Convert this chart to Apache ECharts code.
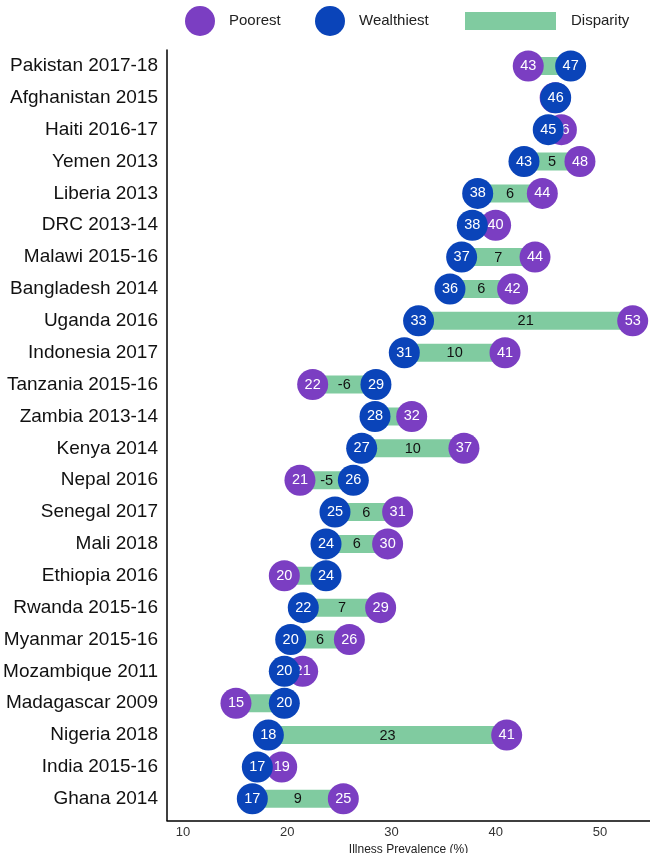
<!DOCTYPE html>
<html>
<head>
<meta charset="utf-8">
<script src="https://cdn.jsdelivr.net/npm/echarts@6/dist/echarts.min.js"></script>
<style>html,body{margin:0;padding:0;background:#fff}#c{width:650px;height:853px}</style>
</head>
<body>
<div id="c"></div>
<script>
const categories = ['Pakistan 2017-18','Afghanistan 2015','Haiti 2016-17','Yemen 2013','Liberia 2013','DRC 2013-14','Malawi 2015-16','Bangladesh 2014','Uganda 2016','Indonesia 2017','Tanzania 2015-16','Zambia 2013-14','Kenya 2014','Nepal 2016','Senegal 2017','Mali 2018','Ethiopia 2016','Rwanda 2015-16','Myanmar 2015-16','Mozambique 2011','Madagascar 2009','Nigeria 2018','India 2015-16','Ghana 2014'];
const poorest = [43.12,45.7,46.3,48.08,44.47,39.99,43.77,41.62,53.14,40.89,22.44,31.94,36.95,21.22,30.59,29.63,19.72,28.96,25.96,21.48,15.08,41.05,19.47,25.38];
const wealthiest = [47.19,45.75,45.04,42.71,38.27,37.75,36.73,35.61,32.6,31.23,28.51,28.42,27.14,26.34,24.58,23.72,23.72,21.54,20.33,19.72,19.72,18.19,17.13,16.65];
const xTicks = [10,20,30,40,50];

const PURPLE = '#7B3EC2', BLUE = '#0A44B9', GREEN = '#80CBA0';
const FONT = '"Liberation Sans", Arial, sans-serif';

const rowIdx = categories.map((c,i)=>i);
const poorData = poorest.map((v,i)=>[v,i]);
const richData = wealthiest.map((v,i)=>[v,i]);
const dispData = poorest.map((p,i)=>[p, wealthiest[i], i, p - wealthiest[i]]);

const chart = echarts.init(document.getElementById('c'), null, {renderer:'canvas'});
const legendBase = {selectedMode:false, orient:'horizontal', textStyle:{fontFamily:FONT, fontSize:15, color:'#222'}};
chart.setOption({
  animation:false,
  legend:[
    Object.assign({}, legendBase, {data:[{name:'Poorest', icon:'circle'}], left:180, top:1, itemWidth:48, itemHeight:30}),
    Object.assign({}, legendBase, {data:[{name:'Wealthiest', icon:'circle'}], left:310, top:1, itemWidth:48, itemHeight:30}),
    Object.assign({}, legendBase, {data:[{name:'Disparity', icon:'rect'}], left:460, top:7, itemWidth:91, itemHeight:18,
      textStyle:{fontFamily:FONT, fontSize:15, color:'#222', padding:[0,0,0,10]}})
  ],
  grid:{left:167, right:0, top:50, bottom:32.5, outerBoundsMode:'none', containLabel:false},
  xAxis:{
    type:'value', min:8.465, max:54.8,
    axisLine:{show:true, onZero:false, lineStyle:{color:'#000', width:1.5}},
    axisTick:{show:false},
    splitLine:{show:false},
    axisLabel:{customValues:xTicks, fontFamily:FONT, fontSize:13, color:'#333', margin:5},
    name:'Illness Prevalence (%)', nameLocation:'middle', nameGap:17,
    nameTextStyle:{fontFamily:FONT, fontSize:12, color:'#222'}
  },
  yAxis:{
    type:'value', inverse:true, min:-0.5, max:23.68,
    axisLine:{show:true, onZero:false, lineStyle:{color:'#000', width:1.5}},
    axisTick:{show:false},
    splitLine:{show:false},
    axisLabel:{customValues:rowIdx, formatter:v=>categories[Math.round(v)], fontFamily:FONT, fontSize:19, color:'#111', margin:9}
  },
  series:[
    {
      name:'Disparity', type:'custom', z:1,
      itemStyle:{color:GREEN},
      encode:{x:[0,1], y:2},
      data:dispData,
      renderItem:function(params, api){
        const p = api.value(0), w = api.value(1), i = api.value(2), d = api.value(3);
        const a = api.coord([Math.min(p,w), i]);
        const b = api.coord([Math.max(p,w), i]);
        const h = 18;
        const children = [{type:'rect', shape:{x:a[0], y:a[1]-h/2, width:b[0]-a[0], height:h}, style:{fill:GREEN}}];
        if (Math.abs(d) >= 5) {
          children.push({type:'text', x:(a[0]+b[0])/2, y:a[1]+0.5, style:{text:String(Math.round(d)), align:'center', verticalAlign:'middle', fill:'#111', font:'14.5px '+FONT}});
        }
        return {type:'group', children:children};
      }
    },
    {
      name:'Poorest', type:'scatter', z:2, symbol:'circle', symbolSize:31,
      itemStyle:{color:PURPLE, opacity:1},
      label:{show:true, position:'inside', color:'#fff', fontFamily:FONT, fontSize:14.5, formatter:p=>Math.round(p.value[0])},
      data:poorData
    },
    {
      name:'Wealthiest', type:'scatter', z:3, symbol:'circle', symbolSize:31,
      itemStyle:{color:BLUE, opacity:1},
      label:{show:true, position:'inside', color:'#fff', fontFamily:FONT, fontSize:14.5, formatter:p=>Math.round(p.value[0])},
      data:richData
    }
  ]
});
</script>
</body>
</html>
